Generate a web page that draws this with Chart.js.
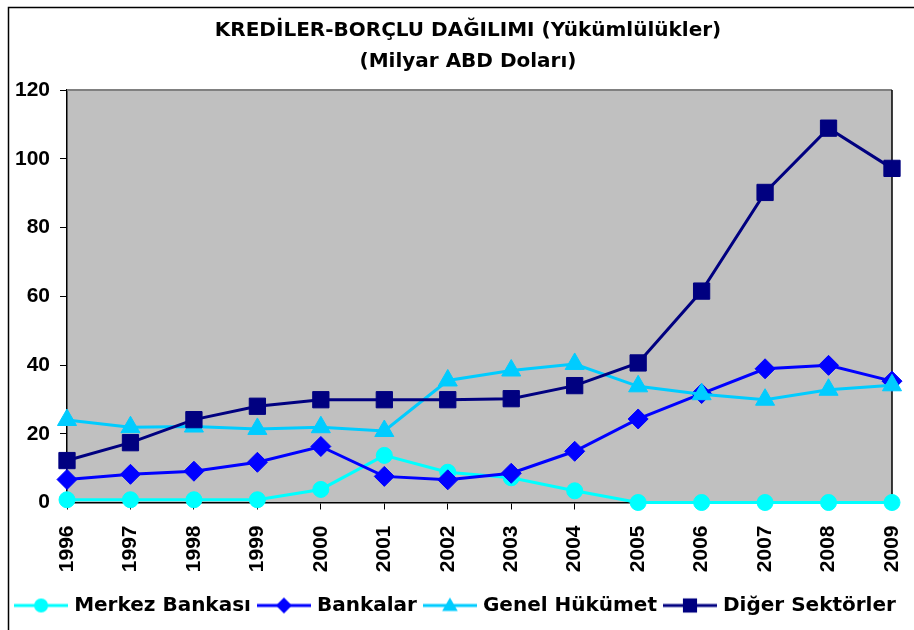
<!DOCTYPE html>
<html>
<head>
<meta charset="utf-8">
<script src="https://cdn.jsdelivr.net/npm/chart.js@4/dist/chart.umd.min.js"></script>
<style>
  html, body { margin: 0; padding: 0; background: #fff; }
  #wrap { width: 914px; height: 630px; position: relative; }
</style>
</head>
<body>
<div id="wrap"><canvas id="c" width="914" height="630"></canvas></div>
<script>
const years = ['1996','1997','1998','1999','2000','2001','2002','2003','2004','2005','2006','2007','2008','2009'];
const merkezBankasi = [0.8, 0.8, 0.8, 0.8, 3.8, 13.7, 8.8, 7.2, 3.4, 0, 0, 0, 0, 0];
const bankalar = [6.7, 8.2, 9.1, 11.7, 16.3, 7.6, 6.6, 8.5, 14.9, 24.3, 31.7, 38.9, 39.9, 35.3];
const genelHukumet = [24.0, 21.9, 22.1, 21.4, 21.9, 20.8, 35.5, 38.4, 40.3, 33.8, 31.5, 29.9, 32.8, 34.1];
const digerSektorler = [12.2, 17.4, 24.1, 28.0, 29.9, 29.9, 29.9, 30.2, 34.0, 40.6, 61.5, 90.2, 108.9, 97.2];
const seriesNames = ['Merkez Bankası', 'Bankalar', 'Genel Hükümet', 'Diğer Sektörler'];
const yTicks = [0, 20, 40, 60, 80, 100, 120];
const titleLines = ['KREDİLER-BORÇLU DAĞILIMI (Yükümlülükler)', '(Milyar ABD Doları)'];

const colors = ['#00FFFF', '#0000FF', '#00CCFF', '#000080'];
const styles = ['circle', 'rectRot', 'triangle', 'rect'];
const radii = [8, 10, 11, 11.5];

function drawMarker(ctx, style, x, y, r, color) {
  ctx.fillStyle = color;
  ctx.beginPath();
  if (style === 'circle') {
    ctx.arc(x, y, r, 0, Math.PI * 2);
  } else if (style === 'rectRot') {
    ctx.moveTo(x, y - r); ctx.lineTo(x + r, y); ctx.lineTo(x, y + r); ctx.lineTo(x - r, y);
  } else if (style === 'triangle') {
    const h = r * Math.sqrt(3) / 2;
    ctx.moveTo(x, y - r); ctx.lineTo(x + h, y + r / 2); ctx.lineTo(x - h, y + r / 2);
  } else {
    const s = r * Math.SQRT1_2;
    ctx.rect(x - s, y - s, 2 * s, 2 * s);
  }
  ctx.closePath();
  ctx.fill();
}

function legendIcon(i) {
  const cv = document.createElement('canvas');
  cv.width = 54; cv.height = 24;
  const ctx = cv.getContext('2d');
  ctx.strokeStyle = colors[i];
  ctx.lineWidth = 3;
  ctx.beginPath(); ctx.moveTo(0, 12); ctx.lineTo(54, 12); ctx.stroke();
  const r = [7, 8, 9, 10][i];
  drawMarker(ctx, styles[i], 27, i === 2 ? 13 : 12, r, colors[i]);
  return cv;
}
const icons = [0, 1, 2, 3].map(legendIcon);

const seriesData = [merkezBankasi, bankalar, genelHukumet, digerSektorler];
const datasets = seriesData.map((d, i) => ({
  label: seriesNames[i],
  data: d,
  borderColor: colors[i],
  backgroundColor: colors[i],
  borderWidth: 3,
  pointStyle: styles[i],
  pointRadius: radii[i],
  pointHoverRadius: radii[i],
  pointBackgroundColor: colors[i],
  pointBorderColor: colors[i],
  pointBorderWidth: 1,
  tension: 0,
  clip: false,
  order: 4 - i
}));

const bgPlugin = {
  id: 'plotbg',
  afterLayout(chart) {
    if (chart.titleBlock) { chart.titleBlock.left += 11; chart.titleBlock.right += 11; }
  },
  beforeDraw(chart) {
    const { ctx, chartArea: a } = chart;
    ctx.save();
    ctx.fillStyle = '#C0C0C0';
    ctx.fillRect(a.left, a.top, a.right - a.left, a.bottom - a.top);
    ctx.restore();
  },
  beforeDatasetsDraw(chart) {
    const { ctx, chartArea: a } = chart;
    ctx.save();
    ctx.lineWidth = 2;
    ctx.strokeStyle = '#808080';
    ctx.beginPath(); ctx.moveTo(a.left, a.top); ctx.lineTo(a.right, a.top); ctx.stroke();
    ctx.lineWidth = 1.5;
    ctx.strokeStyle = '#000';
    ctx.beginPath(); ctx.moveTo(a.right, a.top); ctx.lineTo(a.right, a.bottom); ctx.stroke();
    ctx.restore();
  },
  afterDraw(chart) {
    const ctx = chart.ctx;
    ctx.save();
    ctx.lineWidth = 1.5;
    ctx.strokeStyle = '#000';
    ctx.strokeRect(8.5, 7.5, 1000, 1000);
    ctx.restore();
  }
};

new Chart(document.getElementById('c'), {
  type: 'line',
  data: { labels: years, datasets },
  options: {
    responsive: false,
    animation: false,
    events: [],
    layout: { padding: { left: 0, right: 0, top: 0, bottom: 4.5 } },
    plugins: {
      title: {
        display: true,
        text: titleLines,
        color: '#000',
        font: { family: 'DejaVu Sans', size: 20, weight: 'bold', lineHeight: 1.55 },
        padding: { top: 15.5, bottom: 12.5 }
      },
      legend: {
        position: 'bottom',
        labels: {
          color: '#000',
          font: { family: 'DejaVu Sans', size: 20, weight: 'bold' },
          usePointStyle: true,
          pointStyleWidth: 46,
          padding: 10,
          generateLabels(chart) {
            return seriesNames.map((n, i) => ({
              text: n,
              pointStyle: icons[i],
              fillStyle: colors[i],
              strokeStyle: colors[i],
              lineWidth: 0,
              datasetIndex: i,
              hidden: false
            }));
          }
        }
      },
      tooltip: { enabled: false }
    },
    scales: {
      x: {
        type: 'category',
        offset: false,
        grid: { display: true, drawOnChartArea: false, drawTicks: true, tickLength: 7, color: '#000', offset: false },
        border: { display: true, color: '#000', width: 1.5 },
        ticks: {
          color: '#000',
          autoSkip: false,
          minRotation: 90,
          maxRotation: 90,
          padding: 16,
          font: { family: 'Liberation Sans', size: 21, weight: 'bold' }
        },
        afterFit(scale) { scale.height = 83; scale.paddingRight = 0; scale.paddingLeft = 0; }
      },
      y: {
        min: 0,
        max: 120,
        afterBuildTicks(scale) { scale.ticks = yTicks.map(v => ({ value: v })); },
        grid: { display: true, drawOnChartArea: false, drawTicks: true, tickLength: 7, color: '#000' },
        border: { display: true, color: '#000', width: 1.5 },
        ticks: {
          color: '#000',
          padding: 10,
          font: { family: 'Liberation Sans', size: 21, weight: 'bold' }
        },
        afterFit(scale) { scale.width = 67; }
      },
      rightGap: {
        type: 'linear',
        position: 'right',
        display: true,
        grid: { display: false, drawTicks: false },
        border: { display: false },
        ticks: { display: false },
        afterFit(scale) { scale.width = 22; }
      }
    }
  },
  plugins: [bgPlugin]
});
</script>
</body>
</html>
